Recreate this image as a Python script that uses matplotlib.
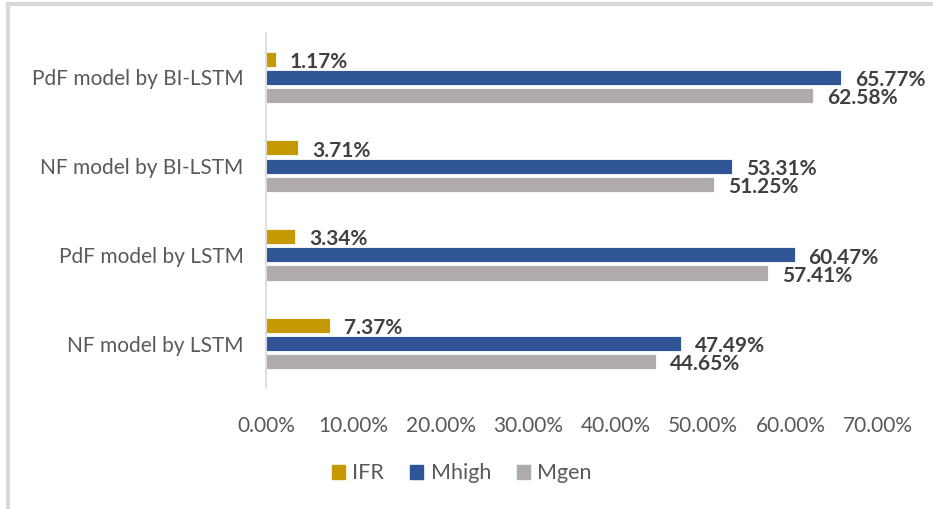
import matplotlib.pyplot as plt
import numpy as np
from matplotlib.lines import Line2D

plt.rcParams['font.family'] = ['Lato', 'DejaVu Sans']

categories = ['NF model by LSTM', 'PdF model by LSTM', 'NF model by BI-LSTM', 'PdF model by BI-LSTM']
series_names = ['IFR', 'Mhigh', 'Mgen']
ifr = [7.37, 3.34, 3.71, 1.17]
mhigh = [47.49, 60.47, 53.31, 65.77]
mgen = [44.65, 57.41, 51.25, 62.58]
colors = ['#c49a00', '#2f5597', '#afabab']
xticks = [0, 10, 20, 30, 40, 50, 60, 70]

fig = plt.figure(figsize=(9.33, 5.09), dpi=100)
ax = fig.add_axes([0.285, 0.238, 0.656, 0.697])

y = np.arange(len(categories))
h = 0.17
step = 0.205
for i, (vals, col) in enumerate(zip([ifr, mhigh, mgen], colors)):
    pos = y + step * (1 - i)
    ax.barh(pos, vals, height=h, color=col, edgecolor='white', linewidth=0.6)
    for p, v in zip(pos, vals):
        ax.annotate(f'{v:.2f}%', (v, p), xytext=(10, -2), textcoords='offset points',
                    va='center', ha='left', fontsize=15, fontweight='bold', color='#404040')

ax.set_xlim(0, 70)
ax.set_ylim(-0.5, 3.5)
ax.set_xticks(xticks)
ax.set_xticklabels([f'{t:.2f}%' for t in xticks])
ax.set_yticks(y)
ax.set_yticklabels(categories)
ax.tick_params(axis='both', length=0, labelsize=15, labelcolor='#595959')
ax.tick_params(axis='x', pad=20)
ax.tick_params(axis='y', pad=16)
for s in ['top', 'right', 'bottom']:
    ax.spines[s].set_visible(False)
ax.spines['left'].set_color('#d9d9d9')
ax.spines['left'].set_linewidth(1.2)

handles = [plt.Rectangle((0, 0), 1, 1, color=c) for c in colors]
fig.legend(handles, series_names, loc='center', bbox_to_anchor=(0.495, 0.07), ncol=3,
           frameon=False, fontsize=15.5, handlelength=0.6, handleheight=0.6,
           handletextpad=0.35, columnspacing=1.2, labelcolor='#595959')

# chart frame (left and top edges visible in crop)
fig.add_artist(Line2D([0.009, 0.009], [0, 0.992], color='#d9d9d9', lw=3, transform=fig.transFigure))
fig.add_artist(Line2D([0.009, 1], [0.992, 0.992], color='#d9d9d9', lw=3, transform=fig.transFigure))

fig.savefig('out.png', dpi=100)
